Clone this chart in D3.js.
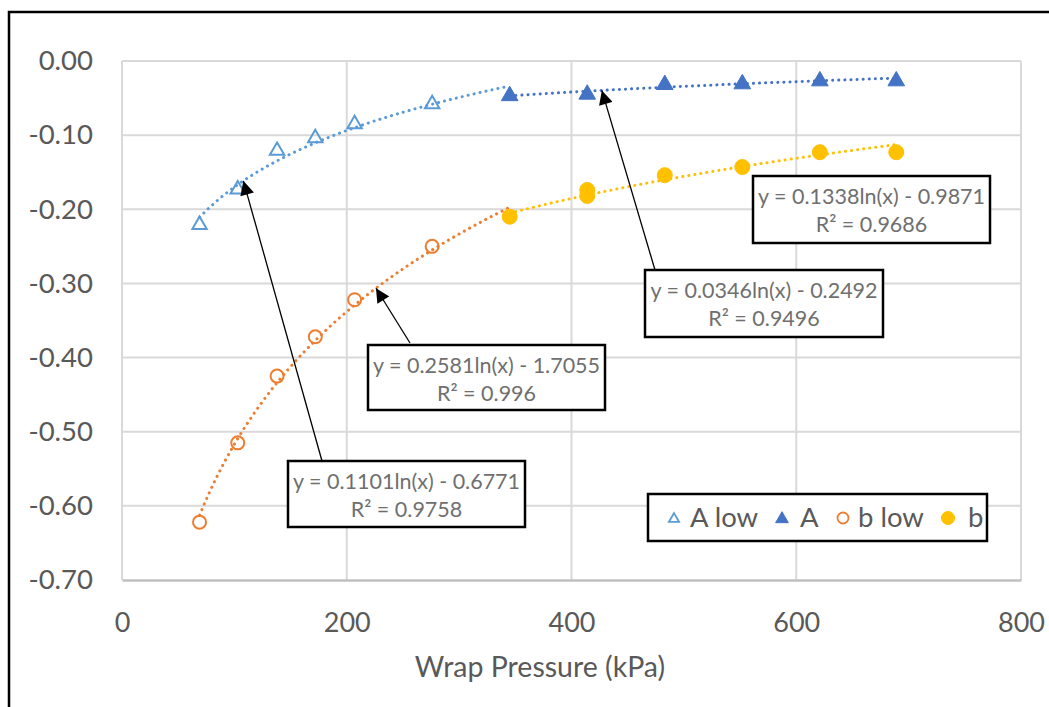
<!DOCTYPE html>
<html>
<head>
<meta charset="utf-8">
<script src="https://d3js.org/d3.v7.min.js"></script>
<style>
  body { margin: 0; background: #fff; }
  svg { display: block; }
</style>
</head>
<body>
<div id="chart"></div>
<script>
// datos
const xLow = [69, 103, 138, 172, 207, 276];
const aLow = [-0.221, -0.173, -0.121, -0.104, -0.085, -0.058];
const bLow = [-0.622, -0.515, -0.425, -0.372, -0.322, -0.250];

const xA = [345, 414, 483, 552, 621, 689];
const aHigh = [-0.047, -0.045, -0.032, -0.031, -0.027, -0.027];

const xB = [345, 414, 414, 483, 552, 621, 689];
const bHigh = [-0.210, -0.174, -0.182, -0.154, -0.143, -0.123, -0.123];

const yTicks = [0, -0.1, -0.2, -0.3, -0.4, -0.5, -0.6, -0.7];
const xTicks = [0, 200, 400, 600, 800];

// lineas de tendencia logaritmicas: y = a ln(x) + b
const trendNames = ["A low", "A", "b low", "b"];
const trendA = [0.1101, 0.0346, 0.2581, 0.1338];
const trendB = [-0.6771, -0.2492, -1.7055, -0.9871];
const trendR2 = ["0.9758", "0.9496", "0.996", "0.9686"];
const trendRange = [[69, 345], [345, 689], [69, 345], [345, 689]];

const W = 1049, H = 707;
const margin = { left: 122, right: 28, top: 61, bottom: 127 };

const svg = d3.select("#chart").append("svg")
  .attr("width", W).attr("height", H);

const x = d3.scaleLinear().domain([0, 800]).range([margin.left, W - margin.right]);
const y = d3.scaleLinear().domain([-0.7, 0]).range([H - margin.bottom, margin.top]);

const font = "Lato, 'Open Sans', sans-serif";
const grey = "#595959";

// marco exterior
svg.append("path")
  .attr("d", `M9,${H} V12 H${W}`)
  .attr("fill", "none").attr("stroke", "#000").attr("stroke-width", 2.5);

// rejilla
svg.append("g").selectAll("line").data(yTicks.slice(0, -1)).join("line")
  .attr("x1", x(0)).attr("x2", x(800))
  .attr("y1", d => y(d)).attr("y2", d => y(d))
  .attr("stroke", "#d9d9d9").attr("stroke-width", 2);
svg.append("g").selectAll("line").data(xTicks).join("line")
  .attr("x1", d => x(d)).attr("x2", d => x(d))
  .attr("y1", y(0)).attr("y2", y(-0.7))
  .attr("stroke", "#d9d9d9").attr("stroke-width", 2);

// eje x
const xAxis = svg.append("g")
  .attr("transform", `translate(0,${y(-0.7)})`)
  .call(d3.axisBottom(x).tickValues(xTicks).tickSize(0).tickPadding(33).tickFormat(d3.format("d")));
xAxis.select(".domain").attr("stroke", "#bfbfbf").attr("stroke-width", 2.5);
xAxis.selectAll("text").attr("font-family", font).attr("font-size", 27).attr("fill", grey);

// eje y
const yAxis = svg.append("g")
  .attr("transform", `translate(${x(0)},0)`)
  .call(d3.axisLeft(y).tickValues(yTicks).tickSize(0).tickPadding(29).tickFormat(d3.format(".2f")));
yAxis.select(".domain").remove();
yAxis.selectAll("text").attr("font-family", font).attr("font-size", 27.5).attr("fill", grey)
  .text(d => d3.format(".2f")(d).replace("−", "-"));

svg.append("text")
  .attr("x", 540).attr("y", 677)
  .attr("text-anchor", "middle")
  .attr("font-family", font).attr("font-size", 28.5).attr("fill", grey)
  .text("Wrap Pressure (kPa)");

// tendencias
const colors = ["#5b9bd5", "#4472c4", "#ed7d31", "#ffc000"];
const line = d3.line().x(d => x(d[0])).y(d => y(d[1]));
trendNames.forEach((n, i) => {
  const [lo, hi] = trendRange[i];
  const pts = d3.range(0, 101).map(k => {
    const xv = lo + (hi - lo) * k / 100;
    return [xv, trendA[i] * Math.log(xv) + trendB[i]];
  });
  svg.append("path").datum(pts)
    .attr("d", line)
    .attr("fill", "none")
    .attr("stroke", colors[i])
    .attr("stroke-width", 3)
    .attr("stroke-linecap", "round")
    .attr("stroke-dasharray", "0.1 6");
});

// marcadores
const tri = d3.symbol().type(d3.symbolTriangle);
function triangles(xs, ys, color, filled) {
  svg.append("g").selectAll("path").data(xs).join("path")
    .attr("transform", (d, i) => `translate(${x(d)},${y(ys[i])})`)
    .attr("d", tri.size(filled ? 120 : 90)())
    .attr("fill", filled ? color : "none")
    .attr("stroke", color).attr("stroke-width", filled ? 1 : 2);
}
function circles(xs, ys, color, filled) {
  svg.append("g").selectAll("circle").data(xs).join("circle")
    .attr("cx", d => x(d)).attr("cy", (d, i) => y(ys[i]))
    .attr("r", filled ? 7.5 : 6.5)
    .attr("fill", filled ? color : "none")
    .attr("stroke", color).attr("stroke-width", filled ? 1 : 2);
}
triangles(xLow, aLow, colors[0], false);
triangles(xA, aHigh, colors[1], true);
circles(xLow, bLow, colors[2], false);
circles(xB, bHigh, colors[3], true);

// flechas
svg.append("defs").append("marker")
  .attr("id", "arrow").attr("viewBox", "0 0 10 10")
  .attr("refX", 10).attr("refY", 5)
  .attr("markerWidth", 15).attr("markerHeight", 14)
  .attr("markerUnits", "userSpaceOnUse")
  .attr("orient", "auto")
  .append("path").attr("d", "M0,0 L10,5 L0,10 Z").attr("fill", "#000");

// etiquetas: indice de tendencia, caja (px), cola de flecha (px), x de la punta
const labels = [
  { t: 0, box: [288, 461, 237, 66], tail: [322, 461], tip: 108 },
  { t: 2, box: [368, 345, 237, 65], tail: [410, 343], tip: 226 },
  { t: 1, box: [645, 270, 238, 67], tail: [655, 270], tip: 427 },
  { t: 3, box: [753, 176, 237, 67], tail: null, tip: null }
];
labels.forEach(l => {
  const i = l.t;
  if (l.tail) {
    const tv = trendA[i] * Math.log(l.tip) + trendB[i];
    svg.append("line")
      .attr("x1", l.tail[0]).attr("y1", l.tail[1])
      .attr("x2", x(l.tip)).attr("y2", y(tv))
      .attr("stroke", "#000").attr("stroke-width", 1.3)
      .attr("marker-end", "url(#arrow)");
  }
  const [bx, by, bw, bh] = l.box;
  svg.append("rect")
    .attr("x", bx).attr("y", by).attr("width", bw).attr("height", bh)
    .attr("fill", "#fff").attr("stroke", "#000").attr("stroke-width", 2.5);
  const sign = trendB[i] < 0 ? "-" : "+";
  const t = svg.append("text")
    .attr("font-family", font).attr("font-size", 21.5).attr("fill", "#6f6f6f")
    .attr("text-anchor", "middle");
  t.append("tspan").attr("x", bx + bw / 2).attr("y", by + 28)
    .text(`y = ${trendA[i].toFixed(4)}ln(x) ${sign} ${Math.abs(trendB[i]).toFixed(4)}`);
  t.append("tspan").attr("x", bx + bw / 2).attr("y", by + 56)
    .text(`R² = ${trendR2[i]}`);
});

// leyenda
const legend = svg.append("g");
legend.append("rect")
  .attr("x", 648).attr("y", 494).attr("width", 339).attr("height", 47)
  .attr("fill", "#fff").attr("stroke", "#000").attr("stroke-width", 2.5);
const legX = [674, 782, 843, 948];
const legTextX = [690, 800, 858, 968];
trendNames.forEach((n, i) => {
  const cy = 518;
  if (i < 2) {
    legend.append("path")
      .attr("transform", `translate(${legX[i]},${cy + 1})`)
      .attr("d", tri.size(i === 0 ? 45 : 70)())
      .attr("fill", i === 0 ? "none" : colors[i])
      .attr("stroke", colors[i]).attr("stroke-width", i === 0 ? 1.8 : 1);
  } else {
    legend.append("circle")
      .attr("cx", legX[i]).attr("cy", cy).attr("r", i === 2 ? 5.5 : 6.5)
      .attr("fill", i === 2 ? "none" : colors[i])
      .attr("stroke", colors[i]).attr("stroke-width", i === 2 ? 1.8 : 1);
  }
  legend.append("text")
    .attr("x", legTextX[i]).attr("y", cy + 9)
    .attr("font-family", font).attr("font-size", 27.5).attr("fill", grey)
    .text(n);
});
</script>
</body>
</html>
